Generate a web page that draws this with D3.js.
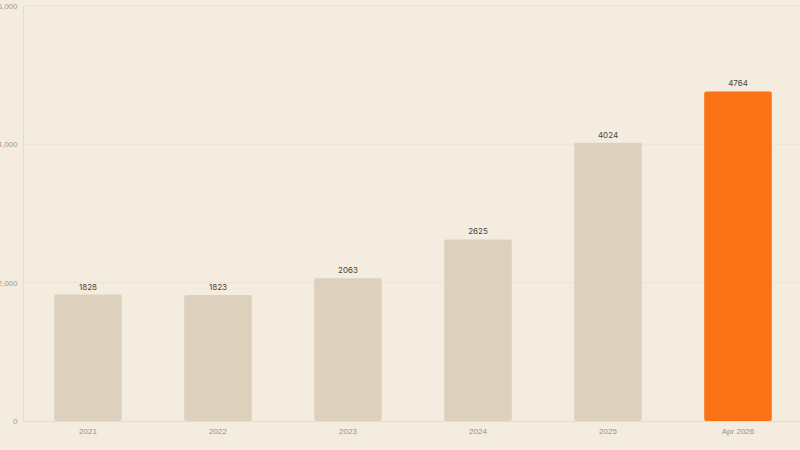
<!DOCTYPE html>
<html><head><meta charset="utf-8">
<script src="https://cdn.jsdelivr.net/npm/d3@7"></script>
<style>
html,body{margin:0;padding:0;background:#f5ece0;}
svg{display:block;font-family:Inter, "Noto Sans", sans-serif;}
</style></head>
<body><svg width="800" height="450"></svg>
<script>
const categories = ["2021","2022","2023","2024","2025","Apr 2026"];
const values = [1828, 1823, 2063, 2625, 4024, 4764];
const yTicks = [0, 2000, 4000, 6000];

(function(){
const svg = d3.select("svg");
const mLeft = 23, mRight = 803, mTop = 6, mBottom = 421;
const x = d3.scaleBand().domain(categories).range([mLeft, mRight]).paddingInner(0.48).paddingOuter(0.24);
const y = d3.scaleLinear().domain([0, 6000]).range([mBottom, mTop]);

// grid
svg.append("g").selectAll("line").data(yTicks.filter(d=>d>0)).join("line")
  .attr("x1", mLeft).attr("x2", 800).attr("y1", d=>y(d)).attr("y2", d=>y(d))
  .attr("stroke", "#ece2d5").attr("stroke-width", 1);

// y axis
const ya = svg.append("g").attr("transform", `translate(${mLeft},0)`)
  .call(d3.axisLeft(y).tickValues(yTicks).tickFormat(d3.format(",")).tickSize(0).tickPadding(5.5));
ya.select(".domain").attr("stroke", "#e6dbcc");
ya.selectAll("text").attr("fill", "#a89a8b").attr("font-size", 8);

// x axis
const xa = svg.append("g").attr("transform", `translate(0,${mBottom})`)
  .call(d3.axisBottom(x).tickSize(0).tickPadding(7.5));
xa.select(".domain").attr("stroke", "#e6dbcc");
xa.selectAll("text").attr("fill", "#9c8e7e").attr("font-size", 8);

// bars
svg.append("g").selectAll("rect").data(values).join("rect")
  .attr("x", (d,i)=>x(categories[i]))
  .attr("y", d=>y(d))
  .attr("width", x.bandwidth())
  .attr("height", d=>mBottom - y(d))
  .attr("rx", 2)
  .attr("fill", (d,i)=> i === values.length-1 ? "#f97316" : "#ddd1bd");

// value labels
svg.append("g").selectAll("text").data(values).join("text")
  .attr("x", (d,i)=>x(categories[i]) + x.bandwidth()/2)
  .attr("y", d=>y(d) - 5)
  .attr("text-anchor", "middle")
  .attr("font-size", 8)
  .attr("fill", "#4a4540")
  .text(d=>d);
})();
</script></body></html>
